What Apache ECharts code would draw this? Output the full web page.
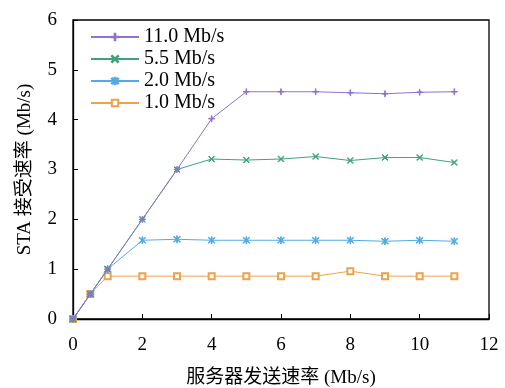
<!DOCTYPE html>
<html><head><meta charset="utf-8">
<script src="https://cdn.jsdelivr.net/npm/echarts@6/dist/echarts.min.js"></script>
<style>html,body{margin:0;padding:0;background:#fff}#c{width:505px;height:388px}</style>
</head><body><div id="c"></div>
<script>
var xValues = [0, 0.5, 1, 2, 3, 4, 5, 6, 7, 8, 9, 10, 11];
var s11 = [0, 0.5, 1.0, 2.0, 3.0, 4.02, 4.56, 4.56, 4.56, 4.54, 4.52, 4.55, 4.56];
var s55 = [0, 0.5, 1.0, 2.0, 3.0, 3.21, 3.19, 3.21, 3.26, 3.18, 3.24, 3.24, 3.14];
var s20 = [0, 0.5, 1.0, 1.58, 1.6, 1.58, 1.58, 1.58, 1.58, 1.58, 1.56, 1.58, 1.56];
var s10 = [0, 0.5, 0.86, 0.86, 0.86, 0.86, 0.86, 0.86, 0.86, 0.96, 0.86, 0.86, 0.86];
var names = ['11.0 Mb/s', '5.5 Mb/s', '2.0 Mb/s', '1.0 Mb/s'];
var xTicks = {min: 0, max: 12, interval: 2};
var yTicks = {min: 0, max: 6, interval: 1};

function pairs(v){ return xValues.map(function(x,i){return [x, v[i]];}); }
var font = '"Liberation Serif","Times New Roman","Noto Sans CJK SC",serif';
var plus = 'path://M-1,-0.1H1V0.1H-1Z M-0.1,-1H0.1V1H-0.1Z';
var cross = 'path://M-0.85,-0.72L-0.72,-0.85L0.85,0.72L0.72,0.85Z M0.85,-0.72L0.72,-0.85L-0.85,0.72L-0.72,0.85Z';
var star = 'path://M-0.85,-0.72L-0.72,-0.85L0.85,0.72L0.72,0.85Z M0.85,-0.72L0.72,-0.85L-0.85,0.72L-0.72,0.85Z M-0.09,-1H0.09V1H-0.09Z';
var colors = ['#8f73cc', '#3fa37a', '#52abe3', '#eda24c'];
var data = [s11, s55, s20, s10];
var syms = [plus, cross, star, 'emptyRect'];
var sizes = [6, 6, 7, 6];

var series = data.map(function(d, i){
  return {
    name: names[i], type: 'line', data: pairs(d),
    symbol: syms[i], symbolSize: sizes[i], showSymbol: true,
    lineStyle: {color: colors[i], width: 1},
    itemStyle: {color: colors[i], borderColor: colors[i], borderWidth: 1},
    z: 10 - i
  };
});

var chart = echarts.init(document.getElementById('c'), null, {renderer: 'canvas'});
chart.setOption({
  animation: false,
  color: colors,
  grid: {left: 73, right: 16, top: 20, bottom: 69, outerBoundsMode: 'none', containLabel: false,
         show: true, borderColor: '#000', borderWidth: 1.3, backgroundColor: 'transparent'},
  legend: {
    orient: 'vertical', left: 85, top: 22, itemWidth: 48, itemHeight: 8, itemGap: 2,
    textStyle: {fontFamily: font, fontSize: 20, color: '#000'},
    data: names
  },
  xAxis: {
    type: 'value', min: xTicks.min, max: xTicks.max, interval: xTicks.interval,
    name: '服务器发送速率 (Mb/s)', nameLocation: 'middle', nameGap: 50,
    nameTextStyle: {fontFamily: font, fontSize: 19, color: '#000'},
    axisLine: {show: true, lineStyle: {color: '#000', width: 1.3}},
    axisTick: {show: true, inside: true, length: 5, lineStyle: {color: '#000'}},
    axisLabel: {fontFamily: font, fontSize: 19, color: '#000', margin: 17},
    splitLine: {show: false}
  },
  yAxis: {
    type: 'value', min: yTicks.min, max: yTicks.max, interval: yTicks.interval,
    name: 'STA 接受速率 (Mb/s)', nameLocation: 'middle', nameGap: 38, nameRotate: 90,
    nameTextStyle: {fontFamily: font, fontSize: 19, color: '#000'},
    axisLine: {show: true, lineStyle: {color: '#000', width: 1.3}},
    axisTick: {show: true, inside: true, length: 5, lineStyle: {color: '#000'}},
    axisLabel: {fontFamily: font, fontSize: 19, color: '#000', margin: 16},
    splitLine: {show: false}
  },
  series: series
});
</script></body></html>
